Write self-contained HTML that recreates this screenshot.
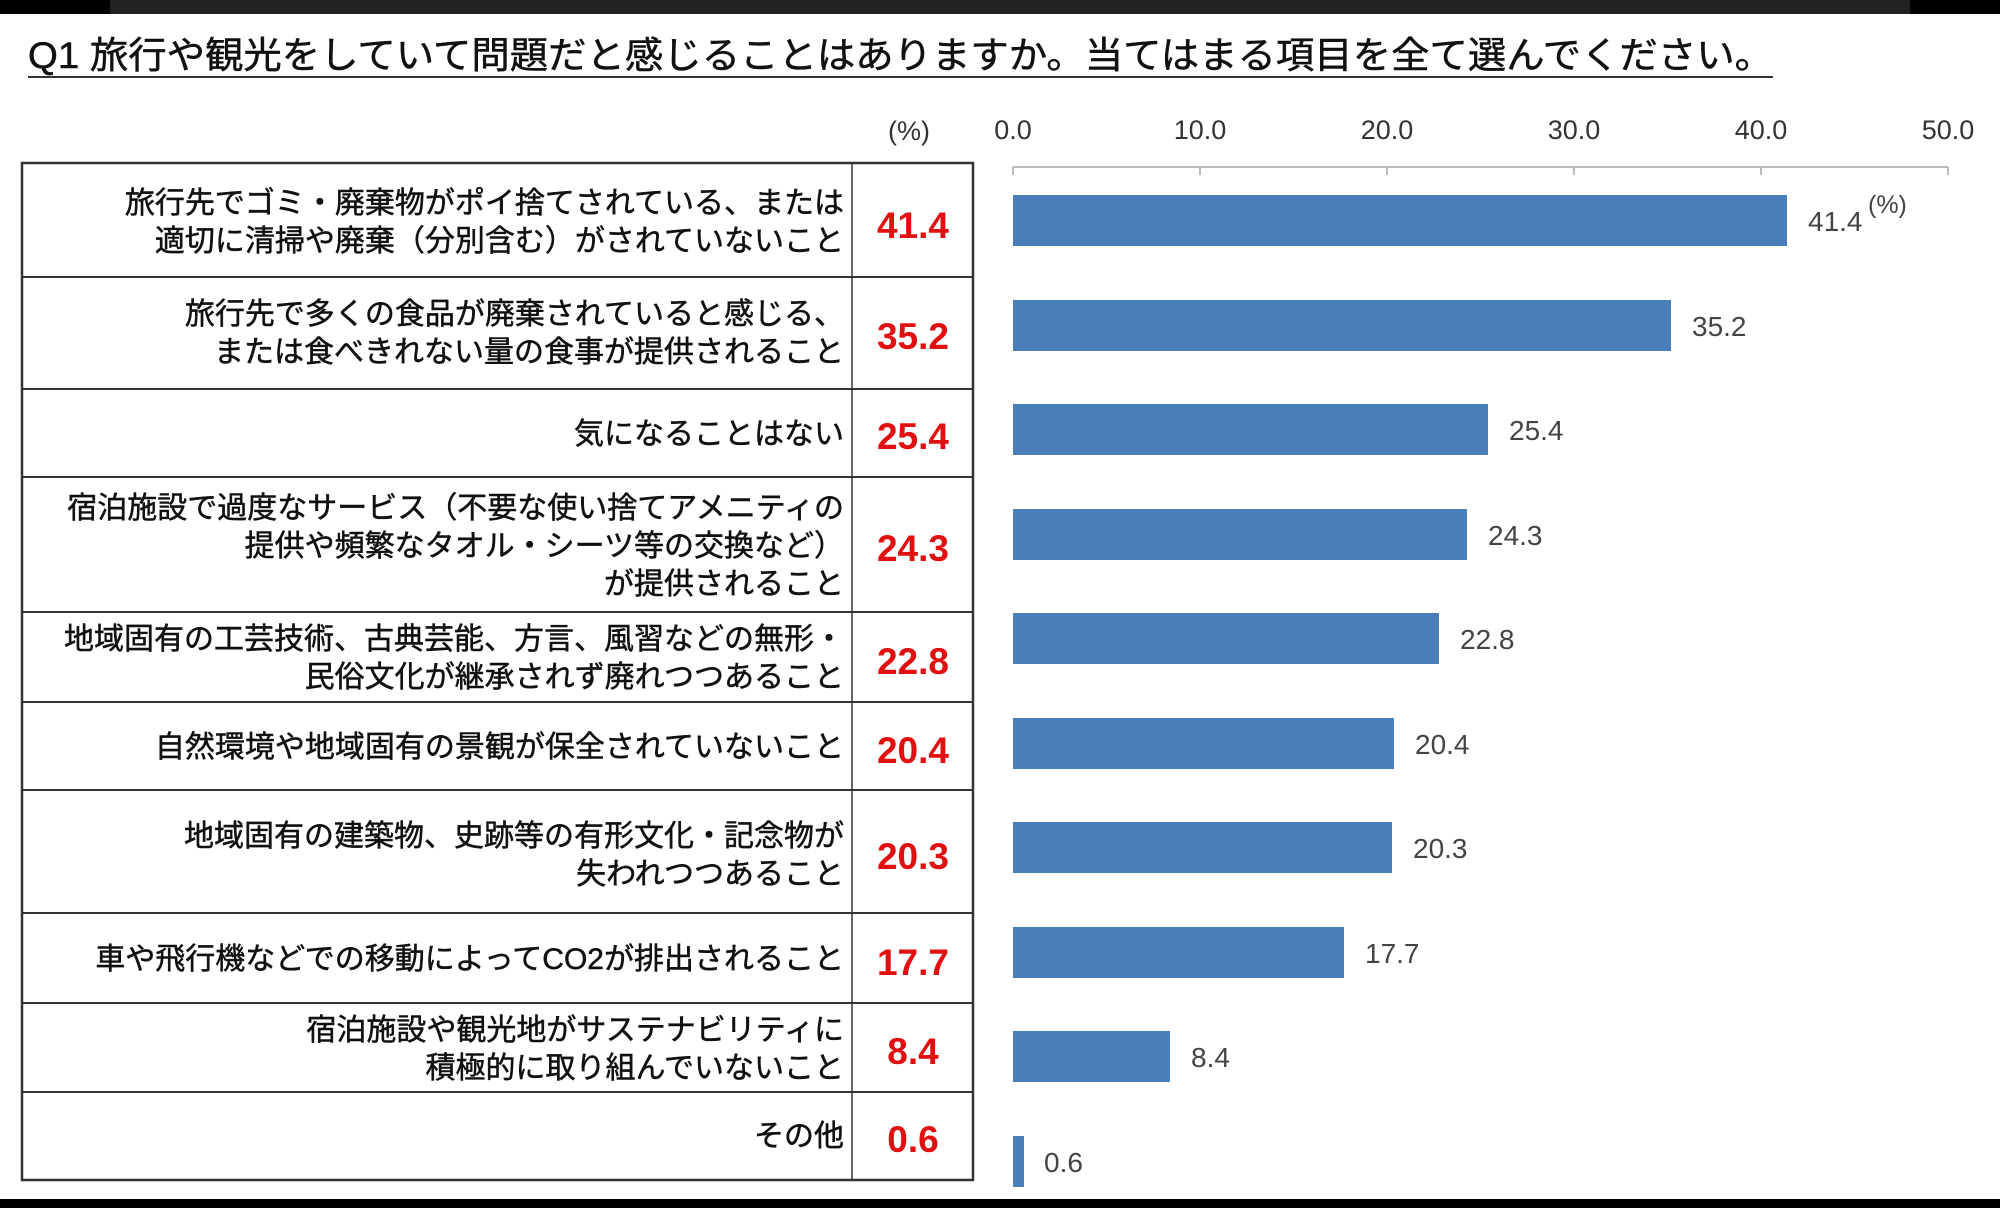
<!DOCTYPE html>
<html><head><meta charset="utf-8"><style>
html,body{margin:0;padding:0;background:#fff}
svg{display:block}
text{font-family:"Liberation Sans","Noto Sans CJK JP",sans-serif}
</style></head><body>
<svg width="2000" height="1208" viewBox="0 0 2000 1208" xmlns="http://www.w3.org/2000/svg">
<rect x="0" y="0" width="2000" height="14" fill="#000"/>
<rect x="110" y="0" width="1800" height="14" fill="#222"/>
<rect x="0" y="1199" width="2000" height="9" fill="#000"/>
<text x="28" y="68" font-size="37" fill="#111" stroke="#111" stroke-width="0.5" textLength="1745" lengthAdjust="spacingAndGlyphs">Q1 旅行や観光をしていて問題だと感じることはありますか。当てはまる項目を全て選んでください。</text>
<line x1="28" y1="77" x2="1773" y2="77" stroke="#333" stroke-width="2"/>
<text x="909" y="140" font-size="27" fill="#333" text-anchor="middle">(%)</text>
<g font-size="27" fill="#333" text-anchor="middle">
<text x="1013" y="139">0.0</text><text x="1200" y="139">10.0</text><text x="1387" y="139">20.0</text><text x="1574" y="139">30.0</text><text x="1761" y="139">40.0</text><text x="1948" y="139">50.0</text>
</g>
<g stroke="#bbb" stroke-width="2">
<line x1="1013" y1="167" x2="1948" y2="167"/>
<line x1="1013" y1="167" x2="1013" y2="175"/><line x1="1200" y1="167" x2="1200" y2="175"/><line x1="1387" y1="167" x2="1387" y2="175"/><line x1="1574" y1="167" x2="1574" y2="175"/><line x1="1761" y1="167" x2="1761" y2="175"/><line x1="1948" y1="167" x2="1948" y2="175"/>
</g>
<g stroke="#333" fill="none">
<rect x="22" y="163" width="951" height="1017" stroke-width="2.5"/>
<line x1="852" y1="163" x2="852" y2="1180" stroke-width="1.5"/>
<g stroke-width="2">
<line x1="22" y1="277" x2="973" y2="277"/><line x1="22" y1="389" x2="973" y2="389"/><line x1="22" y1="477" x2="973" y2="477"/><line x1="22" y1="612" x2="973" y2="612"/><line x1="22" y1="702" x2="973" y2="702"/><line x1="22" y1="790" x2="973" y2="790"/><line x1="22" y1="913" x2="973" y2="913"/><line x1="22" y1="1003" x2="973" y2="1003"/><line x1="22" y1="1092" x2="973" y2="1092"/>
</g></g>
<g font-size="30" fill="#111" stroke="#111" stroke-width="0.5" text-anchor="end">
<text x="844" y="213">旅行先でゴミ・廃棄物がポイ捨てされている、または</text>
<text x="844" y="251">適切に清掃や廃棄（分別含む）がされていないこと</text>
<text x="844" y="324">旅行先で多くの食品が廃棄されていると感じる、</text>
<text x="844" y="362">または食べきれない量の食事が提供されること</text>
<text x="844" y="444">気になることはない</text>
<text x="844" y="518">宿泊施設で過度なサービス（不要な使い捨てアメニティの</text>
<text x="844" y="556">提供や頻繁なタオル・シーツ等の交換など）</text>
<text x="844" y="594">が提供されること</text>
<text x="844" y="649">地域固有の工芸技術、古典芸能、方言、風習などの無形・</text>
<text x="844" y="687">民俗文化が継承されず廃れつつあること</text>
<text x="844" y="757">自然環境や地域固有の景観が保全されていないこと</text>
<text x="844" y="846">地域固有の建築物、史跡等の有形文化・記念物が</text>
<text x="844" y="884">失われつつあること</text>
<text x="844" y="969">車や飛行機などでの移動によってCO2が排出されること</text>
<text x="844" y="1040">宿泊施設や観光地がサステナビリティに</text>
<text x="844" y="1078">積極的に取り組んでいないこと</text>
<text x="844" y="1146">その他</text>
</g>
<g font-size="37" font-weight="bold" fill="#e01010" text-anchor="middle">
<text x="913" y="238">41.4</text><text x="913" y="349">35.2</text><text x="913" y="449">25.4</text><text x="913" y="561">24.3</text><text x="913" y="674">22.8</text><text x="913" y="763">20.4</text><text x="913" y="869">20.3</text><text x="913" y="975">17.7</text><text x="913" y="1064">8.4</text><text x="913" y="1152">0.6</text>
</g>
<g fill="#4a7ebb">
<rect x="1013" y="195" width="774" height="51"/>
<rect x="1013" y="300" width="658" height="51"/>
<rect x="1013" y="404" width="475" height="51"/>
<rect x="1013" y="509" width="454" height="51"/>
<rect x="1013" y="613" width="426" height="51"/>
<rect x="1013" y="718" width="381" height="51"/>
<rect x="1013" y="822" width="379" height="51"/>
<rect x="1013" y="927" width="331" height="51"/>
<rect x="1013" y="1031" width="157" height="51"/>
<rect x="1013" y="1136" width="11" height="51"/>
</g>
<g font-size="28" fill="#444">
<text x="1808" y="231">41.4</text>
<text x="1868" y="213" font-size="25">(%)</text>
<text x="1692" y="336">35.2</text>
<text x="1509" y="440">25.4</text>
<text x="1488" y="545">24.3</text>
<text x="1460" y="649">22.8</text>
<text x="1415" y="754">20.4</text>
<text x="1413" y="858">20.3</text>
<text x="1365" y="963">17.7</text>
<text x="1191" y="1067">8.4</text>
<text x="1044" y="1172">0.6</text>
</g>
</svg>
</body></html>
